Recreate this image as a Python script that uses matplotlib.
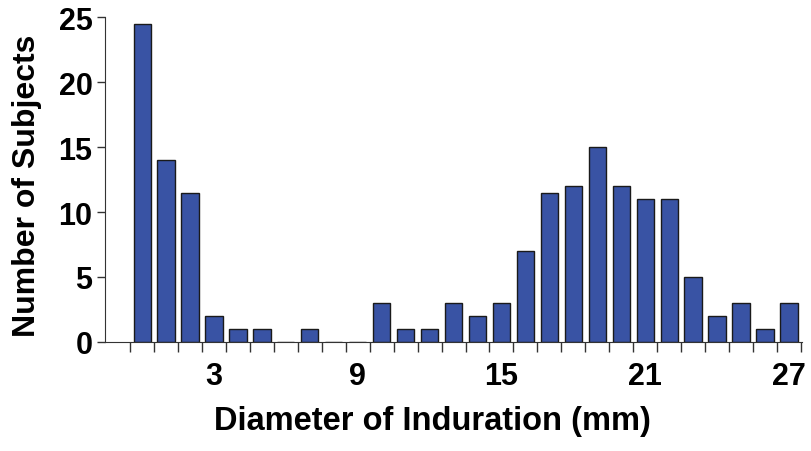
import matplotlib
matplotlib.use("Agg")
import matplotlib.pyplot as plt
import numpy as np

diameters = list(range(0, 28))
counts = [24.5, 14, 11.5, 2, 1, 1, 0, 1, 0, 0, 3, 1, 1, 3, 2, 3, 7, 11.5, 12, 15,
          12, 11, 11, 5, 2, 3, 1, 3]
x_labels = [3, 9, 15, 21, 27]
y_ticks = [0, 5, 10, 15, 20, 25]

plt.rcParams['font.family'] = ['Liberation Sans', 'DejaVu Sans']
plt.rcParams['font.weight'] = 'bold'

fig = plt.figure(figsize=(8.11, 4.52), dpi=100)
ax = fig.add_axes([0.1295, 0.2412, 0.989 - 0.1295, 0.960 - 0.2412])

ax.bar(diameters, counts, width=0.72, color='#3953A4', edgecolor='#1a1a1a', linewidth=1.0)

ax.set_xlim(-1.55, 27.55)
ax.set_ylim(0, 25)

ax.spines['top'].set_visible(False)
ax.spines['right'].set_visible(False)
ax.spines['left'].set_color('#333333')
ax.spines['bottom'].set_color('#333333')

edges = [d - 0.5 for d in diameters] + [diameters[-1] + 0.5]
ax.set_xticks(edges)
ax.set_xticklabels([])
ax.tick_params(axis='x', which='major', length=7, width=1, color='#333333', direction='out')
ax.set_xticks(x_labels, minor=True)
ax.set_xticklabels([str(v) for v in x_labels], minor=True, fontsize=22, fontweight='bold')
ax.tick_params(axis='x', which='minor', length=0, pad=14)

ax.set_yticks(y_ticks)
ax.set_yticklabels([str(v) for v in y_ticks], fontsize=22, fontweight='bold')
ax.tick_params(axis='y', length=6, width=1, color='#333333', direction='out', pad=3)

ax.set_xlabel('Diameter of Induration (mm)', fontsize=23.5, fontweight='bold', labelpad=10)
ax.set_ylabel('Number of Subjects', fontsize=23, fontweight='bold', labelpad=12)
ax.xaxis.label.set_x(0.469)
ax.yaxis.label.set_y(0.485)

fig.savefig('out.png', dpi=100)
